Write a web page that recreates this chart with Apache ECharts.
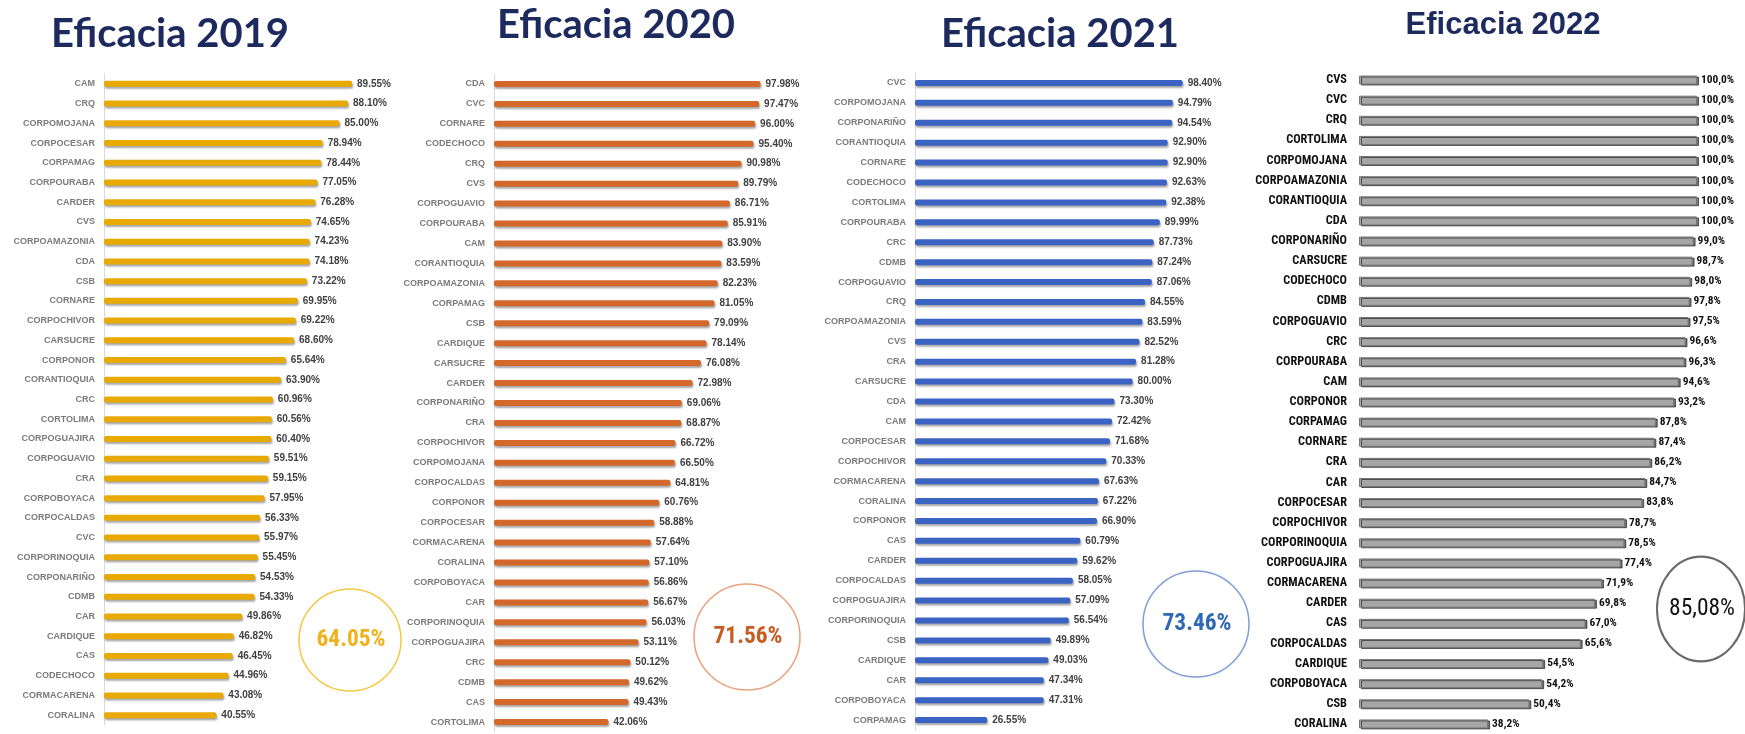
<!DOCTYPE html>
<html>
<head>
<meta charset="utf-8">
<script src="https://cdn.jsdelivr.net/npm/echarts@6/dist/echarts.min.js"></script>
<style>
  html, body { margin: 0; padding: 0; background: #fff; }
  #main { width: 1745px; height: 734px; }
</style>
</head>
<body>
<div id="main"></div>
<script>
// datos de cada año
var cats2019 = ['CAM','CRQ','CORPOMOJANA','CORPOCESAR','CORPAMAG','CORPOURABA','CARDER','CVS','CORPOAMAZONIA','CDA','CSB','CORNARE','CORPOCHIVOR','CARSUCRE','CORPONOR','CORANTIOQUIA','CRC','CORTOLIMA','CORPOGUAJIRA','CORPOGUAVIO','CRA','CORPOBOYACA','CORPOCALDAS','CVC','CORPORINOQUIA','CORPONARIÑO','CDMB','CAR','CARDIQUE','CAS','CODECHOCO','CORMACARENA','CORALINA'];
var vals2019 = [89.55,88.10,85.00,78.94,78.44,77.05,76.28,74.65,74.23,74.18,73.22,69.95,69.22,68.60,65.64,63.90,60.96,60.56,60.40,59.51,59.15,57.95,56.33,55.97,55.45,54.53,54.33,49.86,46.82,46.45,44.96,43.08,40.55];

var cats2020 = ['CDA','CVC','CORNARE','CODECHOCO','CRQ','CVS','CORPOGUAVIO','CORPOURABA','CAM','CORANTIOQUIA','CORPOAMAZONIA','CORPAMAG','CSB','CARDIQUE','CARSUCRE','CARDER','CORPONARIÑO','CRA','CORPOCHIVOR','CORPOMOJANA','CORPOCALDAS','CORPONOR','CORPOCESAR','CORMACARENA','CORALINA','CORPOBOYACA','CAR','CORPORINOQUIA','CORPOGUAJIRA','CRC','CDMB','CAS','CORTOLIMA'];
var vals2020 = [97.98,97.47,96.00,95.40,90.98,89.79,86.71,85.91,83.90,83.59,82.23,81.05,79.09,78.14,76.08,72.98,69.06,68.87,66.72,66.50,64.81,60.76,58.88,57.64,57.10,56.86,56.67,56.03,53.11,50.12,49.62,49.43,42.06];

var cats2021 = ['CVC','CORPOMOJANA','CORPONARIÑO','CORANTIOQUIA','CORNARE','CODECHOCO','CORTOLIMA','CORPOURABA','CRC','CDMB','CORPOGUAVIO','CRQ','CORPOAMAZONIA','CVS','CRA','CARSUCRE','CDA','CAM','CORPOCESAR','CORPOCHIVOR','CORMACARENA','CORALINA','CORPONOR','CAS','CARDER','CORPOCALDAS','CORPOGUAJIRA','CORPORINOQUIA','CSB','CARDIQUE','CAR','CORPOBOYACA','CORPAMAG'];
var vals2021 = [98.40,94.79,94.54,92.90,92.90,92.63,92.38,89.99,87.73,87.24,87.06,84.55,83.59,82.52,81.28,80.00,73.30,72.42,71.68,70.33,67.63,67.22,66.90,60.79,59.62,58.05,57.09,56.54,49.89,49.03,47.34,47.31,26.55];

var cats2022 = ['CVS','CVC','CRQ','CORTOLIMA','CORPOMOJANA','CORPOAMAZONIA','CORANTIOQUIA','CDA','CORPONARIÑO','CARSUCRE','CODECHOCO','CDMB','CORPOGUAVIO','CRC','CORPOURABA','CAM','CORPONOR','CORPAMAG','CORNARE','CRA','CAR','CORPOCESAR','CORPOCHIVOR','CORPORINOQUIA','CORPOGUAJIRA','CORMACARENA','CARDER','CAS','CORPOCALDAS','CARDIQUE','CORPOBOYACA','CSB','CORALINA'];
var vals2022 = [100,100,100,100,100,100,100,100,99.0,98.7,98.0,97.8,97.5,96.6,96.3,94.6,93.2,87.8,87.4,86.2,84.7,83.8,78.7,78.5,77.4,71.9,69.8,67.0,65.6,54.5,54.2,50.4,38.2];

var titles = ['Eficacia 2019','Eficacia 2020','Eficacia 2021','Eficacia 2022'];
var promedios = ['64.05%','71.56%','73.46%','85,08%'];

var chart = echarts.init(document.getElementById('main'));

// buscamos una fuente angosta instalada (como Arial Narrow); si no hay, Liberation Sans
var ctx = document.createElement('canvas').getContext('2d');
function ancho(font, txt) { ctx.font = font; return ctx.measureText(txt).width; }
function existe(fam) {
  var t = 'CORPOAMAZONIA 85,08%';
  return ancho("bold 20px " + fam + ", monospace", t) !== ancho("bold 20px monospace", t) ||
         ancho("bold 20px " + fam + ", serif", t) !== ancho("bold 20px serif", t);
}
var candidatas = ["'Liberation Sans Narrow'", "'Roboto Condensed'", "'Noto Sans Condensed'", "'Noto Sans SemiCondensed'", "'Open Sans Condensed'", "'DejaVu Sans Condensed'"];
var nFamily = null;
candidatas.forEach(function (f) { if (!nFamily && existe(f)) nFamily = f; });
var hayAngosta = !!nFamily;
if (!hayAngosta) nFamily = "'Liberation Sans'";

// tamaño de letra para que el texto mida lo que mide en la imagen
function fit(weight, txt, target, maxSize) {
  var w10 = ancho(weight + ' 10px ' + nFamily, txt);
  return Math.min(maxSize, Math.round(target / w10 * 100) / 10);
}
var sizeCat4 = hayAngosta ? fit('bold', 'CORPOAMAZONIA', 92, 14) : 12;
var sizeVal4 = hayAngosta ? fit('bold', '100,0%', 33, 13.5) : 11.5;
var sizeCirc = hayAngosta ? fit('bold', '64.05%', 69, 27) : 23;
var sizeCirc4 = hayAngosta ? fit('normal', '85,08%', 66, 27) : 23;

// grids: posición de cada panel
var grids = [
  {left: 104, top: 74, width: 277, height: 651},
  {left: 494, top: 74, width: 272, height: 658},
  {left: 915, top: 73, width: 272, height: 657},
  {left: 1359, top: 70, width: 338, height: 666}
];

function yAx(i, data) {
  var p4 = i === 3;
  return {
    type: 'category', gridIndex: i, inverse: true, data: data,
    axisTick: {show: false},
    axisLine: {show: !p4, lineStyle: {color: '#d9d9d9', width: 1}},
    axisLabel: p4 ? {margin: 12, color: '#111', fontSize: sizeCat4, fontWeight: 'bold', fontFamily: nFamily}
                  : {margin: 9, color: '#7a7a7a', fontSize: 9, fontWeight: 'bold', fontFamily: 'Arial, Liberation Sans, sans-serif'}
  };
}
function xAx(i) {
  return {type: 'value', gridIndex: i, min: 0, max: 100, show: false, splitLine: {show: false}};
}

function barSerie(i, data, color) {
  return {
    type: 'bar', xAxisIndex: i, yAxisIndex: i, data: data,
    barWidth: 6,
    itemStyle: {color: color, borderRadius: 2, shadowColor: 'rgba(0,0,0,0.35)', shadowBlur: 2, shadowOffsetX: 1, shadowOffsetY: 2},
    label: {
      show: true, position: 'right', distance: 5,
      color: '#404040', fontSize: 10, fontWeight: 'bold', fontFamily: 'Arial, Liberation Sans, sans-serif',
      formatter: function (p) { return p.value.toFixed(2) + '%'; }
    }
  };
}

var serie2022 = {
  type: 'bar', xAxisIndex: 3, yAxisIndex: 3, data: vals2022,
  barWidth: 9,
  itemStyle: {color: '#a6a6a6', borderColor: '#777', borderWidth: 1, shadowColor: 'rgba(0,0,0,0.55)', shadowOffsetX: 2, shadowOffsetY: 1, shadowBlur: 0},
  label: {
    show: true, position: 'right', distance: 4,
    color: '#111', fontSize: sizeVal4, fontWeight: 'bold', fontFamily: nFamily,
    formatter: function (p) { return p.value.toFixed(1).replace('.', ',') + '%'; }
  }
};

// títulos y círculos con el promedio
var tit = [
  {x: 170, y: 34, font: "bold 40px Lato, sans-serif"},
  {x: 616, y: 25, font: "bold 40px Lato, sans-serif"},
  {x: 1060, y: 34, font: "bold 40px Lato, sans-serif"},
  {x: 1503, y: 25, font: "bold 31px 'Liberation Sans', Arial, sans-serif"}
];
var graphic = [];
tit.forEach(function (t, i) {
  graphic.push({type: 'text', x: t.x, y: t.y, style: {text: titles[i], font: t.font, fill: '#1c2a5e', textAlign: 'center', textVerticalAlign: 'middle'}});
});

var circ = [
  {cx: 350, cy: 640, r: 51, stroke: '#f6c744', fill: '#f0b21c'},
  {cx: 747, cy: 637, r: 53, stroke: '#eaa27c', fill: '#c85c20'},
  {cx: 1196, cy: 624, r: 53, stroke: '#7e9cd8', fill: '#2f68b4'},
  {cx: 1701, cy: 609, r: 44, stroke: '#6a6a6a', fill: '#111'}
];
circ.forEach(function (c, i) {
  graphic.push({
    type: 'circle', x: c.cx, y: c.cy, scaleY: i === 3 ? 1.19 : 1,
    shape: {cx: 0, cy: 0, r: c.r},
    style: {fill: 'none', stroke: c.stroke, lineWidth: i === 3 ? 2 : 1.5}
  });
  var f = i === 3 ? 'normal ' + sizeCirc4 + 'px ' + nFamily : 'bold ' + sizeCirc + 'px ' + nFamily;
  graphic.push({
    type: 'text', x: c.cx + 1, y: c.cy,
    style: {text: promedios[i], font: f, fill: c.fill, textAlign: 'center', textVerticalAlign: 'middle'}
  });
});

var option = {
  backgroundColor: '#fff',
  animation: false,
  grid: grids,
  xAxis: [xAx(0), xAx(1), xAx(2), xAx(3)],
  yAxis: [yAx(0, cats2019), yAx(1, cats2020), yAx(2, cats2021), yAx(3, cats2022)],
  series: [
    barSerie(0, vals2019, '#e8a900'),
    barSerie(1, vals2020, '#d4682a'),
    barSerie(2, vals2021, '#3a63c4'),
    serie2022
  ],
  graphic: graphic
};

chart.setOption(option);
</script>
</body>
</html>
